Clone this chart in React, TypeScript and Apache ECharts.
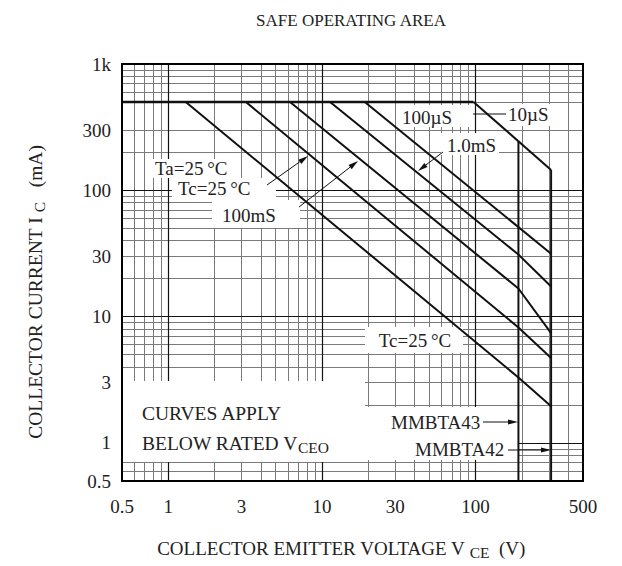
import React, { useEffect, useRef } from 'react';
import * as echarts from 'echarts';

// ---------------- data ----------------
const xTickLabels = [0.5, 1, 3, 10, 30, 100, 500];
const yTickLabels = [0.5, 1, 3, 10, 30, 100, 300, 1000];

const xGridMajor = [1, 10, 100];
const xGridMinor = [0.6, 0.7, 0.8, 0.9, 2, 3, 4, 5, 6, 7, 8, 9, 20, 30, 40, 50, 60, 70, 80, 90, 200, 300, 400];
const yGridMajor = [1, 10, 100];
const yGridMinor = [0.6, 0.7, 0.8, 0.9, 2, 3, 4, 5, 6, 7, 8, 9, 20, 30, 40, 50, 60, 70, 80, 90, 200, 300, 500, 600, 700, 800, 900];

// current limit (500 mA)
const currentLimit = [[0.5, 500], [97, 500]];
// SOA curves [V, mA]
const curveDcTa = [[1.3, 500], [190, 3.3], [310, 1.95]];
const curveDcTc = [[3.2, 500], [190, 8.2], [310, 4.7]];
const curve100ms = [[6.2, 500], [190, 16.7], [310, 7.4]];
const curve1ms = [[11.3, 500], [190, 31], [310, 17.3]];
const curve100us = [[19, 500], [310, 31.5]];
const curve10us = [[97, 500], [310, 145]];
// rated VCEO limits
const limitMMBTA43 = [[190, 245], [190, 0.5]];
const limitMMBTA42 = [[310, 145], [310, 0.5]];

const FONT = '"Liberation Serif", "Times New Roman", Times, serif';

function fmt(v: number) {
  if (v >= 1000) return '1k';
  return String(+v.toPrecision(3));
}

function arrow(x1: number, y1: number, x2: number, y2: number) {
  const dx = x2 - x1, dy = y2 - y1;
  const L = Math.hypot(dx, dy);
  const ux = dx / L, uy = dy / L;
  const len = 10, hw = 2.6;
  const bx = x2 - ux * len, by = y2 - uy * len;
  return [
    { type: 'line', z: 20, silent: true, shape: { x1, y1, x2: bx, y2: by }, style: { stroke: '#111', lineWidth: 1 } },
    {
      type: 'polygon', z: 20, silent: true,
      shape: { points: [[x2, y2], [bx - uy * hw, by + ux * hw], [bx + uy * hw, by - ux * hw]] },
      style: { fill: '#111' },
    },
  ];
}

function box(x: number, y: number, w: number, h: number) {
  return { type: 'rect', z: 6, silent: true, shape: { x, y, width: w, height: h }, style: { fill: '#fff' } };
}

function label(text: string, x: number, y: number, align = 'left', size = 19, rich?: any) {
  return {
    type: 'text', z: 21, silent: true, x, y,
    style: {
      text, fill: '#222', fontSize: size, fontFamily: FONT,
      textAlign: align, textVerticalAlign: 'middle', rich,
    },
  };
}

function gridSeries(name: string, xs: number[], ys: number[], color: string, width: number) {
  return {
    name, type: 'line', data: [], z: 1, silent: true,
    markLine: {
      silent: true, symbol: ['none', 'none'], animation: false,
      label: { show: false }, emphasis: { disabled: true },
      lineStyle: { color, width, type: 'solid' },
      data: [...xs.map((v) => ({ xAxis: v })), ...ys.map((v) => ({ yAxis: v }))],
    },
  };
}

function curve(name: string, data: number[][], width = 2) {
  return {
    name, type: 'line', data, symbol: 'none', z: 8, silent: true,
    lineStyle: { color: '#111', width }, emphasis: { disabled: true },
  };
}

export default function App() {
  const ref = useRef<HTMLDivElement>(null);
  useEffect(() => {
    if (!ref.current) return;
    const chart = echarts.init(ref.current, undefined, { renderer: 'svg' });
    const subRich = {
      s: { fontSize: 15.5, fontFamily: FONT, fill: '#222', padding: [9, 0, 0, 0] },
    };
    const deg = '25\u2009°C';
    chart.setOption({
      animation: false,
      backgroundColor: '#fff',
      grid: { left: 122, top: 64, width: 461, height: 417, show: true, borderColor: '#000', borderWidth: 2, backgroundColor: 'transparent', z: 10 },
      xAxis: {
        type: 'log', logBase: 10, min: 0.5, max: 500,
        axisLine: { show: false }, axisTick: { show: false }, splitLine: { show: false },
        axisLabel: { customValues: xTickLabels, formatter: fmt, fontSize: 19, fontFamily: FONT, color: '#222', margin: 16 },
      },
      yAxis: {
        type: 'log', logBase: 10, min: 0.5, max: 1000,
        axisLine: { show: false }, axisTick: { show: false }, splitLine: { show: false },
        axisLabel: { customValues: yTickLabels, formatter: fmt, fontSize: 19, fontFamily: FONT, color: '#222', margin: 11 },
      },
      series: [
        gridSeries('minor', xGridMinor, yGridMinor, '#7a7a7a', 1),
        gridSeries('major', xGridMajor, yGridMajor, '#111', 1.2),
        curve('limit', currentLimit, 2.6),
        curve('dcTa', curveDcTa),
        curve('dcTc', curveDcTc),
        curve('100ms', curve100ms),
        curve('1ms', curve1ms),
        curve('100us', curve100us),
        curve('10us', curve10us),
        curve('MMBTA43', limitMMBTA43, 2),
        curve('MMBTA42', limitMMBTA42, 2),
      ],
      graphic: [
        // white label backgrounds
        box(153, 159, 78, 19),
        box(172, 178, 104, 22),
        box(212, 200, 88, 28),
        box(398, 105, 75, 22),
        box(505, 104, 46, 22),
        box(441, 133, 58, 22),
        box(365, 327, 98, 26),
        box(365, 407, 154, 53),
        box(121, 381, 244, 81),
        // texts
        label('SAFE OPERATING AREA', 351, 20, 'center', 17),
        label('Ta=' + deg, 155, 168.5),
        label('Tc=' + deg, 178, 188.5),
        label('100mS', 222, 215),
        label('100µS', 402, 117),
        label('1.0mS', 447, 145),
        label('10µS', 508, 114),
        label('Tc=' + deg, 415, 340, 'center'),
        label('CURVES APPLY', 142, 413, 'left', 19.5),
        label('BELOW RATED V{s|CEO}', 142, 443, 'left', 19.5, subRich),
        label('MMBTA43', 391, 422),
        label('MMBTA42', 415, 449),
        label('COLLECTOR EMITTER VOLTAGE V {s|CE}  (V)', 341, 548, 'center', 19, subRich),
        {
          type: 'text', z: 21, silent: true, x: 35, y: 292, rotation: Math.PI / 2,
          style: {
            text: 'COLLECTOR CURRENT I {s|C}   (mA)', fill: '#222', fontSize: 19.5, fontFamily: FONT,
            textAlign: 'center', textVerticalAlign: 'middle', rich: subRich,
          },
        },
        // leader lines & arrows
        { type: 'line', z: 20, silent: true, shape: { x1: 473, y1: 114, x2: 506, y2: 114 }, style: { stroke: '#111', lineWidth: 1 } },
        ...arrow(267, 185, 308, 156),
        ...arrow(299, 207, 358, 161),
        ...arrow(443, 152, 418, 171),
        ...arrow(483, 422, 518, 422),
        ...arrow(508, 450, 551, 450),
      ],
    });
    return () => chart.dispose();
  }, []);
  return <div ref={ref} style={{ position: 'fixed', left: 0, top: 0, width: 622, height: 566, background: '#fff' }} />;
}
